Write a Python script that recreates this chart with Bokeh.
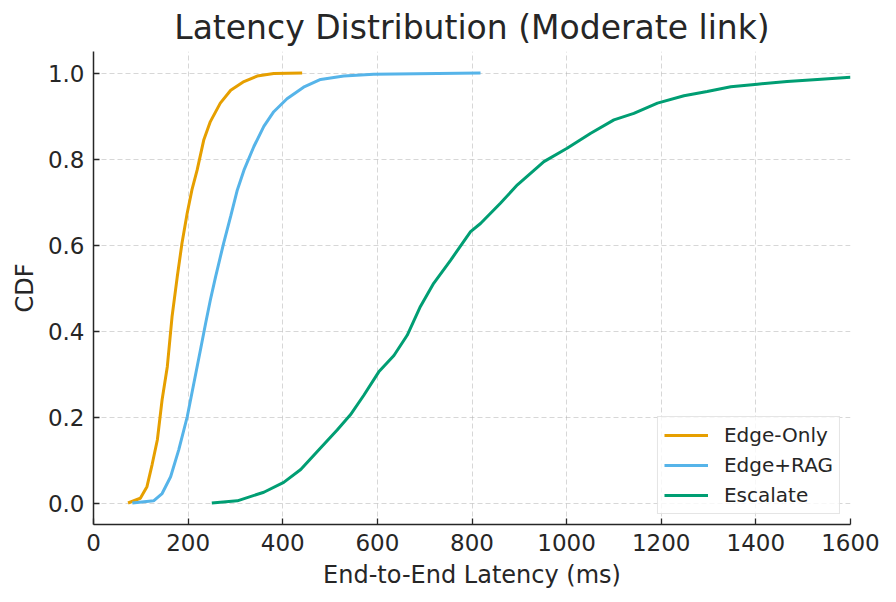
from bokeh.plotting import figure
from bokeh.models import Range1d, FixedTicker, Legend, LegendItem
from bokeh.embed import file_html
from bokeh.resources import INLINE

# ---- data ----
edge_only_x = [73, 99, 113, 124, 135, 145, 156, 166, 177, 187, 198, 208, 219, 233, 247, 268, 290, 318, 346, 381, 441]
edge_only_y = [0.0, 0.011, 0.038, 0.09, 0.147, 0.24, 0.317, 0.433, 0.526, 0.604, 0.674, 0.728, 0.774, 0.844, 0.887, 0.93, 0.96, 0.98, 0.993, 0.999, 1.0]

edge_rag_x = [82, 127, 145, 163, 180, 198, 212, 226, 237, 247, 258, 275, 290, 304, 318, 339, 360, 381, 409, 444, 480, 529, 592, 818]
edge_rag_y = [0.0, 0.005, 0.022, 0.061, 0.123, 0.20, 0.278, 0.356, 0.418, 0.472, 0.526, 0.604, 0.667, 0.728, 0.774, 0.829, 0.876, 0.91, 0.94, 0.967, 0.985, 0.993, 0.997, 1.0]

escalate_x = [250, 304, 360, 402, 438, 473, 515, 543, 571, 603, 635, 663, 691, 719, 755, 797, 818, 860, 896, 952, 1001, 1051, 1100, 1142, 1192, 1248, 1297, 1347, 1403, 1466, 1530, 1600]
escalate_y = [0.0, 0.005, 0.025, 0.048, 0.078, 0.12, 0.17, 0.205, 0.25, 0.305, 0.343, 0.39, 0.457, 0.511, 0.565, 0.631, 0.65, 0.697, 0.74, 0.794, 0.825, 0.86, 0.891, 0.906, 0.93, 0.947, 0.957, 0.968, 0.974, 0.98, 0.985, 0.99]

series_names = ["Edge-Only", "Edge+RAG", "Escalate"]
series_colors = ["#E69F00", "#56B4E9", "#009E73"]

x_ticks = [0, 200, 400, 600, 800, 1000, 1200, 1400, 1600]
y_ticks = [0.0, 0.2, 0.4, 0.6, 0.8, 1.0]
y_tick_labels = {0.0: "0.0", 0.2: "0.2", 0.4: "0.4", 0.6: "0.6", 0.8: "0.8", 1.0: "1.0"}
chart_title = "Latency Distribution (Moderate link)"

FONT = "DejaVu Sans"
TXT = "#262626"

p = figure(
    frame_width=757, frame_height=473,
    min_border_left=93, min_border_right=30, min_border_top=0, min_border_bottom=67,
    x_range=Range1d(0, 1600), y_range=Range1d(-0.05, 1.05),
    output_backend="svg", toolbar_location=None,
    title=chart_title,
)
p.title.align = "center"
p.title.text_font = FONT
p.title.text_font_size = "33px"
p.title.text_font_style = "normal"
p.title.text_color = TXT
p.title.offset = 0
p.title.standoff = 10

p.outline_line_color = None
p.background_fill_color = "white"
p.border_fill_color = "white"

for ax in (p.xaxis[0], p.yaxis[0]):
    ax.axis_line_color = "#262626"
    ax.axis_line_width = 1.5
    ax.major_tick_in = 6
    ax.major_tick_out = 0
    ax.major_tick_line_color = "#262626"
    ax.major_tick_line_width = 1.3
    ax.minor_tick_line_color = None
    ax.major_label_text_font = FONT
    ax.major_label_text_font_size = "23px"
    ax.major_label_text_color = TXT
    ax.axis_label_text_font = FONT
    ax.axis_label_text_font_size = "24px"
    ax.axis_label_text_font_style = "normal"
    ax.axis_label_text_color = TXT

p.xaxis.ticker = FixedTicker(ticks=x_ticks)
p.yaxis.ticker = FixedTicker(ticks=y_ticks)
p.yaxis.major_label_overrides = y_tick_labels
p.xaxis.axis_label = "End-to-End Latency (ms)"
p.yaxis.axis_label = "CDF"
p.xaxis.major_label_standoff = 9
p.yaxis.major_label_standoff = 9
p.xaxis.axis_label_standoff = 7
p.yaxis.axis_label_standoff = 6

for g in (p.xgrid[0], p.ygrid[0]):
    g.grid_line_color = "#b0b0b0"
    g.grid_line_alpha = 0.5
    g.grid_line_dash = "5 3"
    g.grid_line_width = 1

xs = [edge_only_x, edge_rag_x, escalate_x]
ys = [edge_only_y, edge_rag_y, escalate_y]
items = []
for name, color, x, y in zip(series_names, series_colors, xs, ys):
    r = p.line(x, y, line_color=color, line_width=3)
    items.append(LegendItem(label=name, renderers=[r]))

legend = Legend(items=items, location="bottom_right")
legend.label_text_font = FONT
legend.label_text_font_size = "20px"
legend.label_text_color = TXT
legend.glyph_width = 44
legend.glyph_height = 24
legend.label_height = 24
legend.spacing = 6
legend.padding = 6
legend.margin = 10
legend.label_standoff = 16
legend.border_line_color = "#cccccc"
legend.border_line_width = 1
legend.background_fill_color = "white"
legend.background_fill_alpha = 0.8
p.add_layout(legend)

open("out.html", "w").write(file_html(p, INLINE))
